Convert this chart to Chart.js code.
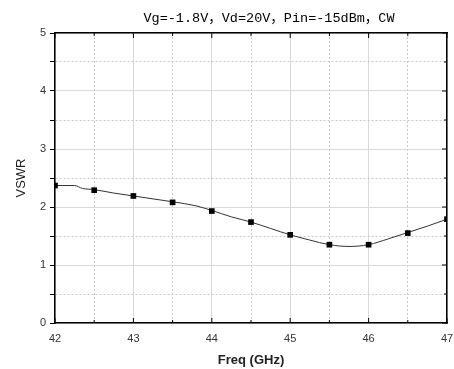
<!DOCTYPE html>
<html>
<head>
<meta charset="utf-8">
<script src="https://cdn.jsdelivr.net/npm/chart.js@4"></script>
<style>
  html, body { margin: 0; padding: 0; background: #fff; }
</style>
</head>
<body>
<canvas id="vswr-chart" width="454" height="369"></canvas>
<script>
// 曲线（较密的读数）
const freqLine = [42, 42.25, 42.35, 42.5, 42.75, 43, 43.25, 43.5, 43.8, 44, 44.25, 44.5, 44.75, 45, 45.25, 45.5, 45.75, 46, 46.25, 46.5, 46.75, 47];
const vswrLine = [2.37, 2.37, 2.32, 2.30, 2.24, 2.19, 2.14, 2.09, 2.02, 1.94, 1.83, 1.74, 1.63, 1.52, 1.43, 1.35, 1.32, 1.35, 1.45, 1.56, 1.67, 1.79];
// 方块标记点
const freqMarks = [42, 42.5, 43, 43.5, 44, 44.5, 45, 45.5, 46, 46.5, 47];
const vswrMarks = [2.37, 2.29, 2.19, 2.08, 1.93, 1.74, 1.52, 1.35, 1.35, 1.55, 1.79];

const titleText = 'Vg=-1.8V，Vd=20V，Pin=-15dBm，CW';
const xTitle = 'Freq (GHz)';
const yTitle = 'VSWR';

const isMinor = c => c.tick && !Number.isInteger(c.tick.value);
const gridColor = c => isMinor(c) ? '#c8c8c8' : '#d9d9d9';

// 顶部标题
const topTitle = {
  id: 'topTitle',
  afterDraw(chart) {
    const { ctx, chartArea: a } = chart;
    ctx.save();
    ctx.font = '13.5px "Liberation Mono", "Noto Sans CJK SC", monospace';
    ctx.fillStyle = '#000';
    ctx.textAlign = 'center';
    ctx.textBaseline = 'middle';
    ctx.fillText(titleText, (a.left + a.right) / 2 + 18, a.top - 15);
    ctx.restore();
  }
};

// 上、下、右边框的内向刻度
const innerTicks = {
  id: 'innerTicks',
  afterDraw(chart) {
    const { ctx, chartArea: a, scales: { x, y } } = chart;
    ctx.save();
    ctx.strokeStyle = '#000';
    ctx.lineWidth = 1;
    ctx.beginPath();
    x.ticks.forEach(t => {
      const px = x.getPixelForValue(t.value);
      const len = Number.isInteger(t.value) ? 5 : 3;
      ctx.moveTo(px, a.bottom); ctx.lineTo(px, a.bottom - len);
      ctx.moveTo(px, a.top); ctx.lineTo(px, a.top + len);
    });
    y.ticks.forEach(t => {
      const py = y.getPixelForValue(t.value);
      const len = Number.isInteger(t.value) ? 5 : 3;
      ctx.moveTo(a.right, py); ctx.lineTo(a.right - len, py);
    });
    ctx.stroke();
    ctx.restore();
  }
};

const ctx = document.getElementById('vswr-chart').getContext('2d');

new Chart(ctx, {
  type: 'line',
  data: {
    datasets: [{
      data: freqLine.map((f, i) => ({ x: f, y: vswrLine[i] })),
      borderColor: '#333',
      borderWidth: 1,
      pointRadius: 0,
      tension: 0.4,
      cubicInterpolationMode: 'monotone',
      fill: false,
      order: 2
    }, {
      data: freqMarks.map((f, i) => ({ x: f, y: vswrMarks[i] })),
      showLine: false,
      pointStyle: 'rect',
      pointRadius: 4,
      pointBackgroundColor: '#000',
      pointBorderColor: '#000',
      pointBorderWidth: 0,
      order: 1
    }]
  },
  options: {
    responsive: false,
    animation: false,
    layout: { padding: { top: 33, right: 0, bottom: 0, left: 0 } },
    plugins: {
      legend: { display: false },
      tooltip: { enabled: false }
    },
    scales: {
      x: {
        type: 'linear',
        position: 'bottom',
        min: 42,
        max: 47,
        ticks: {
          stepSize: 0.5,
          autoSkip: false,
          maxRotation: 0,
          padding: 9,
          color: '#333',
          font: { family: '"Liberation Sans", Arial, sans-serif', size: 11 },
          callback: v => Number.isInteger(v) ? v : ''
        },
        grid: { color: gridColor, lineWidth: 1, drawTicks: false, tickLength: 0 },
        border: { color: '#000', width: 1.5, dash: c => isMinor(c) ? [2, 2] : [] },
        title: {
          display: true,
          text: xTitle,
          color: '#222',
          padding: { top: 0, bottom: 1 },
          font: { family: '"Liberation Sans", Arial, sans-serif', size: 13, weight: 'bold' }
        },
        afterFit: s => { s.height = 46; s.paddingLeft = 0; s.paddingRight = 7; }
      },
      y: {
        type: 'linear',
        position: 'left',
        min: 0,
        max: 5,
        ticks: {
          stepSize: 0.5,
          autoSkip: false,
          padding: 4,
          color: '#333',
          font: { family: '"Liberation Sans", Arial, sans-serif', size: 11 },
          callback: v => Number.isInteger(v) ? v : ''
        },
        grid: { color: gridColor, lineWidth: 1, tickColor: '#000', tickLength: 5 },
        border: { color: '#000', width: 1.5, dash: c => isMinor(c) ? [2, 2] : [] },
        title: {
          display: true,
          text: yTitle,
          color: '#222',
          padding: { top: 14, bottom: 0 },
          font: { family: '"Liberation Sans", Arial, sans-serif', size: 13 }
        },
        afterFit: s => { s.width = 55; s.paddingTop = 0; s.paddingBottom = 0; }
      },
      x2: {
        type: 'linear',
        position: 'top',
        min: 42,
        max: 47,
        ticks: { display: false },
        grid: { display: false },
        border: { color: '#000', width: 1.5 },
        afterFit: s => { s.height = 0; s.paddingLeft = 0; s.paddingRight = 0; }
      },
      y2: {
        type: 'linear',
        position: 'right',
        min: 0,
        max: 5,
        ticks: { display: false },
        grid: { display: false },
        border: { color: '#000', width: 1.5 },
        afterFit: s => { s.width = 0; s.paddingTop = 0; s.paddingBottom = 0; }
      }
    }
  },
  plugins: [topTitle, innerTicks]
});
</script>
</body>
</html>
